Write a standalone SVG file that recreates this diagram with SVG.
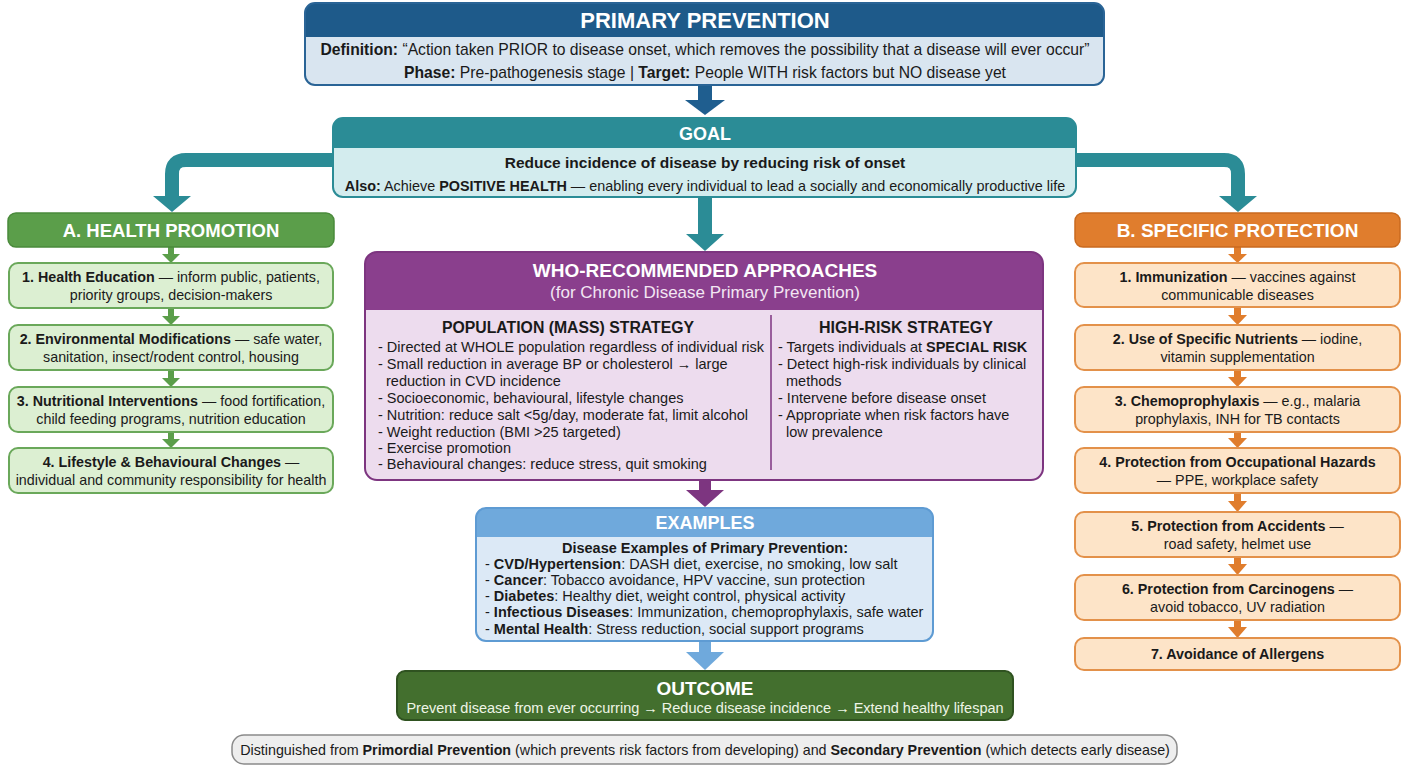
<svg xmlns="http://www.w3.org/2000/svg" width="1408" height="768" viewBox="0 0 1408 768">
<defs>
<style>
text{font-family:"Liberation Sans",Arial,sans-serif;fill:#1a1a1a}
.b{font-weight:bold}
.hw{fill:#ffffff;font-weight:bold}
.it{font-size:14.3px;text-anchor:middle}
.gi{fill:#dcefd2;stroke:#6aa85a;stroke-width:2}
.oi{fill:#fde4c8;stroke:#e3914a;stroke-width:2}
.bl{font-size:14.5px}
</style>
</defs>
<rect width="1408" height="768" fill="#ffffff"/>

<g id="connectors">
<!-- top to goal -->
<rect x="698" y="85" width="14" height="16" fill="#1f5e8f"/>
<polygon points="685,100 725,100 705,115" fill="#1f5e8f"/>
<!-- goal to sides -->
<path d="M333,160 H186 Q172,160 172,174 V197" fill="none" stroke="#2b8c96" stroke-width="14"/>
<polygon points="153,196 191,196 172,212" fill="#2b8c96"/>
<path d="M1076,160 H1224 Q1238,160 1238,174 V197" fill="none" stroke="#2b8c96" stroke-width="14"/>
<polygon points="1219,196 1257,196 1238,212" fill="#2b8c96"/>
<!-- goal to WHO -->
<rect x="698" y="197" width="14" height="38" fill="#2b8c96"/>
<polygon points="686,234 724,234 705,251" fill="#2b8c96"/>
<!-- WHO to examples -->
<rect x="699" y="480" width="12" height="11" fill="#7d3580"/>
<polygon points="686,490 724,490 705,507" fill="#7d3580"/>
<!-- examples to outcome -->
<rect x="699" y="641" width="12" height="12" fill="#6fa9dc"/>
<polygon points="686,652 724,652 705,670" fill="#6fa9dc"/>
<!-- green column arrows -->
<g fill="#5b9e4a">
<rect x="168" y="247" width="6" height="8"/><polygon points="162,254 180,254 171,263"/>
<rect x="168" y="308" width="6" height="9"/><polygon points="162,316 180,316 171,325"/>
<rect x="168" y="370" width="6" height="9"/><polygon points="162,378 180,378 171,387"/>
<rect x="168" y="432" width="6" height="8"/><polygon points="162,439 180,439 171,448"/>
</g>
<!-- orange column arrows -->
<g fill="#e07d2d">
<rect x="1234" y="247" width="7" height="8"/><polygon points="1228,254 1247,254 1237.5,263"/>
<rect x="1234" y="307" width="7" height="9"/><polygon points="1228,315 1247,315 1237.5,325"/>
<rect x="1234" y="370" width="7" height="8"/><polygon points="1228,377 1247,377 1237.5,387"/>
<rect x="1234" y="432" width="7" height="7"/><polygon points="1228,438 1247,438 1237.5,448"/>
<rect x="1234" y="493" width="7" height="9"/><polygon points="1228,501 1247,501 1237.5,512"/>
<rect x="1234" y="557" width="7" height="8"/><polygon points="1228,564 1247,564 1237.5,575"/>
<rect x="1234" y="620" width="7" height="8"/><polygon points="1228,627 1247,627 1237.5,638"/>
</g>
</g>

<g id="primary-prevention">
<rect x="305" y="3" width="799" height="82" rx="10" fill="#d9e5f0"/>
<path d="M305,37 V13 A10,10 0 0 1 315,3 H1094 A10,10 0 0 1 1104,13 V37 Z" fill="#1e5a8a"/>
<rect x="305" y="3" width="799" height="82" rx="10" fill="none" stroke="#2a6496" stroke-width="2"/>
<text x="705" y="28" class="hw" font-size="22" text-anchor="middle">PRIMARY PREVENTION</text>
<text x="705" y="55" font-size="15.7" text-anchor="middle"><tspan class="b">Definition:</tspan> “Action taken PRIOR to disease onset, which removes the possibility that a disease will ever occur”</text>
<text x="705" y="78" font-size="15.7" text-anchor="middle"><tspan class="b">Phase:</tspan> Pre-pathogenesis stage | <tspan class="b">Target:</tspan> People WITH risk factors but NO disease yet</text>
</g>

<g id="goal">
<rect x="333" y="118" width="743" height="79" rx="10" fill="#d3ecee"/>
<path d="M333,148 V128 A10,10 0 0 1 343,118 H1066 A10,10 0 0 1 1076,128 V148 Z" fill="#2b8c96"/>
<rect x="333" y="118" width="743" height="79" rx="10" fill="none" stroke="#2b8c96" stroke-width="2"/>
<text x="705" y="140" class="hw" font-size="18" text-anchor="middle">GOAL</text>
<text x="705" y="168" class="b" font-size="15.5" text-anchor="middle">Reduce incidence of disease by reducing risk of onset</text>
<text x="705" y="191" font-size="14.4" text-anchor="middle"><tspan class="b">Also:</tspan> Achieve <tspan class="b">POSITIVE HEALTH</tspan> — enabling every individual to lead a socially and economically productive life</text>
</g>

<g id="health-promotion">
<rect x="8" y="213" width="326" height="34" rx="8" fill="#5b9e4a" stroke="#4a8a3b" stroke-width="1.5"/>
<text x="171" y="237" class="hw" font-size="18.5" text-anchor="middle">A. HEALTH PROMOTION</text>
</g>
<g id="hp-1">
<rect class="gi" x="9" y="263" width="324" height="45" rx="9"/>
<text class="it" x="171" y="282"><tspan class="b">1. Health Education</tspan> — inform public, patients,</text>
<text class="it" x="171" y="300">priority groups, decision-makers</text>
</g>
<g id="hp-2">
<rect class="gi" x="9" y="325" width="324" height="45" rx="9"/>
<text class="it" x="171" y="344"><tspan class="b">2. Environmental Modifications</tspan> — safe water,</text>
<text class="it" x="171" y="362">sanitation, insect/rodent control, housing</text>
</g>
<g id="hp-3">
<rect class="gi" x="9" y="387" width="324" height="45" rx="9"/>
<text class="it" x="171" y="406"><tspan class="b">3. Nutritional Interventions</tspan> — food fortification,</text>
<text class="it" x="171" y="424">child feeding programs, nutrition education</text>
</g>
<g id="hp-4">
<rect class="gi" x="9" y="448" width="324" height="45" rx="9"/>
<text class="it" x="171" y="467"><tspan class="b">4. Lifestyle &amp; Behavioural Changes</tspan> —</text>
<text class="it" x="171" y="485">individual and community responsibility for health</text>
</g>

<g id="specific-protection">
<rect x="1075" y="213" width="325" height="34" rx="8" fill="#e07d2d" stroke="#c96a1f" stroke-width="1.5"/>
<text x="1237.5" y="237" class="hw" font-size="19" text-anchor="middle">B. SPECIFIC PROTECTION</text>
</g>
<g id="sp-1">
<rect class="oi" x="1075" y="263" width="325" height="44" rx="9"/>
<text class="it" x="1237.5" y="282"><tspan class="b">1. Immunization</tspan> — vaccines against</text>
<text class="it" x="1237.5" y="300">communicable diseases</text>
</g>
<g id="sp-2">
<rect class="oi" x="1075" y="325" width="325" height="45" rx="9"/>
<text class="it" x="1237.5" y="344"><tspan class="b">2. Use of Specific Nutrients</tspan> — iodine,</text>
<text class="it" x="1237.5" y="362">vitamin supplementation</text>
</g>
<g id="sp-3">
<rect class="oi" x="1075" y="387" width="325" height="45" rx="9"/>
<text class="it" x="1237.5" y="406"><tspan class="b">3. Chemoprophylaxis</tspan> — e.g., malaria</text>
<text class="it" x="1237.5" y="424">prophylaxis, INH for TB contacts</text>
</g>
<g id="sp-4">
<rect class="oi" x="1075" y="448" width="325" height="45" rx="9"/>
<text class="it" x="1237.5" y="467"><tspan class="b">4. Protection from Occupational Hazards</tspan></text>
<text class="it" x="1237.5" y="485">— PPE, workplace safety</text>
</g>
<g id="sp-5">
<rect class="oi" x="1075" y="512" width="325" height="45" rx="9"/>
<text class="it" x="1237.5" y="531"><tspan class="b">5. Protection from Accidents</tspan> —</text>
<text class="it" x="1237.5" y="549">road safety, helmet use</text>
</g>
<g id="sp-6">
<rect class="oi" x="1075" y="575" width="325" height="45" rx="9"/>
<text class="it" x="1237.5" y="594"><tspan class="b">6. Protection from Carcinogens</tspan> —</text>
<text class="it" x="1237.5" y="612">avoid tobacco, UV radiation</text>
</g>
<g id="sp-7">
<rect class="oi" x="1075" y="638" width="325" height="32" rx="9"/>
<text class="it b" x="1237.5" y="659">7. Avoidance of Allergens</text>
</g>

<g id="who-approaches">
<rect x="365" y="252" width="678" height="228" rx="12" fill="#eddcee"/>
<path d="M365,310 V264 A12,12 0 0 1 377,252 H1031 A12,12 0 0 1 1043,264 V310 Z" fill="#8a3f8d"/>
<rect x="365" y="252" width="678" height="228" rx="12" fill="none" stroke="#7d3580" stroke-width="2"/>
<text x="705" y="277" class="hw" font-size="19" text-anchor="middle">WHO-RECOMMENDED APPROACHES</text>
<text x="705" y="298" font-size="17" text-anchor="middle" style="fill:#f3e6f3">(for Chronic Disease Primary Prevention)</text>
<line x1="771" y1="315" x2="771" y2="470" stroke="#7d3580" stroke-width="1.5"/>
<text x="568" y="333" class="b" font-size="15.8" text-anchor="middle">POPULATION (MASS) STRATEGY</text>
<text x="906" y="333" class="b" font-size="16" text-anchor="middle">HIGH-RISK STRATEGY</text>
<text class="bl" x="378" y="352">- Directed at WHOLE population regardless of individual risk</text>
<text class="bl" x="378" y="369">- Small reduction in average BP or cholesterol → large</text>
<text class="bl" x="386" y="386">reduction in CVD incidence</text>
<text class="bl" x="378" y="403">- Socioeconomic, behavioural, lifestyle changes</text>
<text class="bl" x="378" y="420">- Nutrition: reduce salt &lt;5g/day, moderate fat, limit alcohol</text>
<text class="bl" x="378" y="437">- Weight reduction (BMI &gt;25 targeted)</text>
<text class="bl" x="378" y="453">- Exercise promotion</text>
<text class="bl" x="378" y="469">- Behavioural changes: reduce stress, quit smoking</text>
<text class="bl" x="778" y="352">- Targets individuals at <tspan class="b">SPECIAL RISK</tspan></text>
<text class="bl" x="778" y="369">- Detect high-risk individuals by clinical</text>
<text class="bl" x="786" y="386">methods</text>
<text class="bl" x="778" y="403">- Intervene before disease onset</text>
<text class="bl" x="778" y="420">- Appropriate when risk factors have</text>
<text class="bl" x="786" y="437">low prevalence</text>
</g>

<g id="examples">
<rect x="476" y="508" width="457" height="133" rx="10" fill="#dce9f6"/>
<path d="M476,537 V518 A10,10 0 0 1 486,508 H923 A10,10 0 0 1 933,518 V537 Z" fill="#6fa9dc"/>
<rect x="476" y="508" width="457" height="133" rx="10" fill="none" stroke="#5e9bd3" stroke-width="2"/>
<text x="705" y="529" class="hw" font-size="18" text-anchor="middle">EXAMPLES</text>
<text x="705" y="553" class="b" font-size="14.5" text-anchor="middle">Disease Examples of Primary Prevention:</text>
<text class="bl" x="485" y="569">- <tspan class="b">CVD/Hypertension</tspan>: DASH diet, exercise, no smoking, low salt</text>
<text class="bl" x="485" y="585">- <tspan class="b">Cancer</tspan>: Tobacco avoidance, HPV vaccine, sun protection</text>
<text class="bl" x="485" y="601">- <tspan class="b">Diabetes</tspan>: Healthy diet, weight control, physical activity</text>
<text class="bl" x="485" y="617">- <tspan class="b">Infectious Diseases</tspan>: Immunization, chemoprophylaxis, safe water</text>
<text class="bl" x="485" y="634">- <tspan class="b">Mental Health</tspan>: Stress reduction, social support programs</text>
</g>

<g id="outcome">
<rect x="397" y="671" width="616" height="49" rx="8" fill="#436f2e" stroke="#2f5220" stroke-width="2"/>
<text x="705" y="695" class="hw" font-size="19" text-anchor="middle">OUTCOME</text>
<text x="705" y="713" font-size="14.5" text-anchor="middle" style="fill:#eef5e6">Prevent disease from ever occurring → Reduce disease incidence → Extend healthy lifespan</text>
</g>

<g id="note">
<rect x="232" y="735" width="945" height="29" rx="12" fill="#eeeeee" stroke="#8a8a8a" stroke-width="1.5"/>
<text x="705" y="755" font-size="14.3" text-anchor="middle">Distinguished from <tspan class="b">Primordial Prevention</tspan> (which prevents risk factors from developing) and <tspan class="b">Secondary Prevention</tspan> (which detects early disease)</text>
</g>
</svg>
